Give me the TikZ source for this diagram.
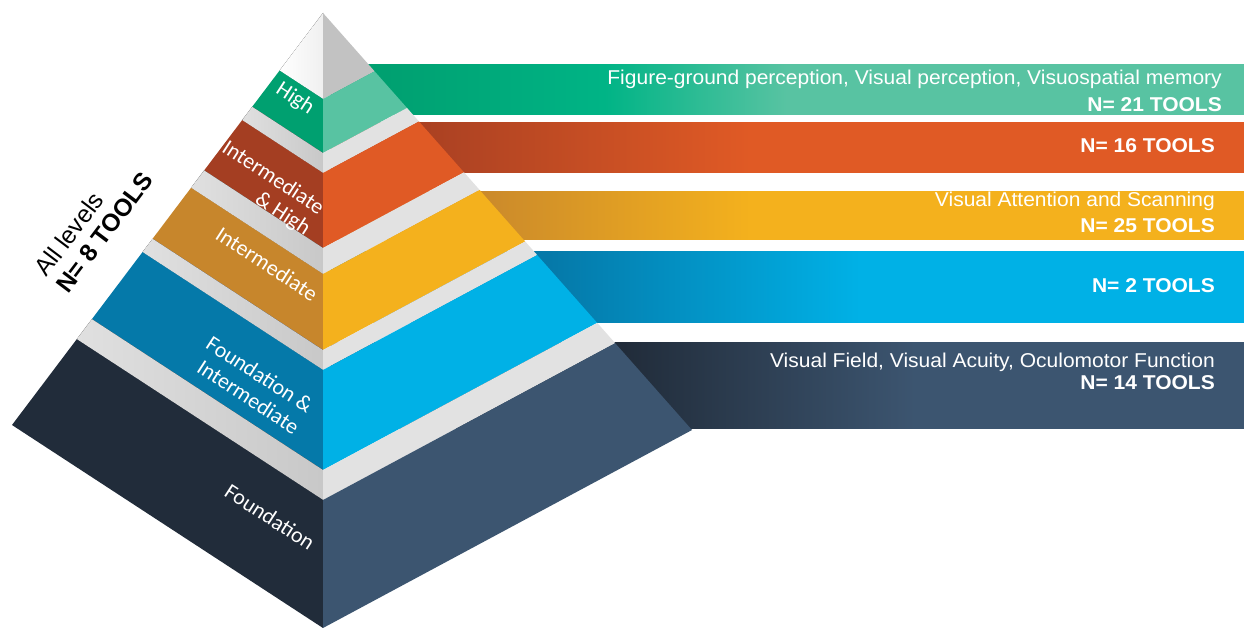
\documentclass[tikz,border=0pt]{standalone}
\usepackage{fontspec}
\setmainfont{Liberation Sans}
\newfontfamily\bandfont[FakeStretch=1.05]{Liberation Sans}
\newfontfamily\lblfont{Carlito}
\usetikzlibrary{calc}
\definecolor{capR}{HTML}{C2C2C2}
\definecolor{hiL}{HTML}{00A070}
\definecolor{hiR}{HTML}{58C3A2}
\definecolor{hiM}{HTML}{00B486}
\definecolor{ihL}{HTML}{A43E22}
\definecolor{ihR}{HTML}{E05A25}
\definecolor{inL}{HTML}{C7862C}
\definecolor{inR}{HTML}{F4B11D}
\definecolor{fiL}{HTML}{0579A9}
\definecolor{fiR}{HTML}{00B1E6}
\definecolor{foL}{HTML}{212C3A}
\definecolor{foR}{HTML}{3C5570}
\definecolor{sepR}{HTML}{E2E2E2}
\definecolor{sepLa}{HTML}{E0E0E0}
\definecolor{sepLb}{HTML}{C8C8C8}
% band shadings: 25bp = x 330, 75bp = x 1244
\pgfdeclarehorizontalshading{shHi}{100bp}{color(0bp)=(hiL); color(28bp)=(hiL); color(40bp)=(hiM); color(50bp)=(hiR); color(100bp)=(hiR)}
\pgfdeclarehorizontalshading{shIH}{100bp}{color(0bp)=(ihL); color(28bp)=(ihL); color(48bp)=(ihR); color(100bp)=(ihR)}
\pgfdeclarehorizontalshading{shIn}{100bp}{color(0bp)=(inL); color(32bp)=(inL); color(48bp)=(inR); color(100bp)=(inR)}
\pgfdeclarehorizontalshading{shFI}{100bp}{color(0bp)=(fiL); color(37bp)=(fiL); color(54bp)=(fiR); color(100bp)=(fiR)}
\pgfdeclarehorizontalshading{shFo}{100bp}{color(0bp)=(foL); color(41bp)=(foL); color(57bp)=(foR); color(100bp)=(foR)}
\newcommand\pyrlayer[4]{%
  \pgfmathsetmacro\ta{(#1-13)/615}%
  \pgfmathsetmacro\tb{(#2-13)/615}%
  \fill[#3] ($(apex)!\ta!(lc)$) -- (323,#1) -- (323,#2) -- ($(apex)!\tb!(lc)$) -- cycle;
  \fill[#4] (323,#1) -- ($(apex)!\ta!(rc)$) -- ($(apex)!\tb!(rc)$) -- (323,#2) -- cycle;
}
\begin{document}
\begin{tikzpicture}[x=1pt,y=-1pt,
  bandtext/.style={text=white,anchor=base east,inner sep=0pt,font=\bandfont\fontsize{20}{22}\selectfont},
  bandbold/.style={bandtext,font=\bandfont\fontsize{20}{22}\selectfont\bfseries},
  lvl/.style={text=white,rotate=-33,align=right,inner sep=0pt,font=\lblfont\fontsize{22}{25}\selectfont},
  alltext/.style={rotate=53,inner sep=0pt,font=\fontsize{24.5}{26}\selectfont}]
\useasboundingbox (0,0) rectangle (1244,628);
\fill[white] (0,0) rectangle (1244,628);
% bands
\shade[shading=shHi] (330,65) rectangle (1244,115);
\shade[shading=shIH] (330,123) rectangle (1244,173);
\shade[shading=shIn] (330,192) rectangle (1244,240);
\shade[shading=shFI] (330,252) rectangle (1244,322);
\shade[shading=shFo] (330,342) rectangle (1244,428);
% pyramid
\coordinate (apex) at (323,13);
\coordinate (lc) at (12,425);
\coordinate (rc) at (692,430);
\coordinate (bc) at (323,628);
\pyrlayer{13}{99}{left color=white, right color=gray!12}{capR}
\pyrlayer{99}{153}{hiL}{hiR}
\pyrlayer{153}{173}{left color=sepLa, right color=sepLb}{sepR}
\pyrlayer{173}{248}{ihL}{ihR}
\pyrlayer{248}{274}{left color=sepLa, right color=sepLb}{sepR}
\pyrlayer{274}{350}{inL}{inR}
\pyrlayer{350}{370}{left color=sepLa, right color=sepLb}{sepR}
\pyrlayer{370}{470}{fiL}{fiR}
\pyrlayer{470}{500}{left color=sepLa, right color=sepLb}{sepR}
\pyrlayer{500}{628}{foL}{foR}
% pyramid labels
\node[lvl] (lhigh) at (295,99) {High};
\node[lvl] (linthigh) at (266,189) {Intermediate\\\& High};
\node[lvl] (lint) at (267,264) {Intermediate};
\node[lvl] (lfoundint) at (253,385) {Foundation \&\\Intermediate};
\node[lvl] (lfound) at (270,517) {Foundation};
\node[alltext] (all1) at (69,234) {All levels};
\node[alltext,font=\fontsize{24.5}{26}\selectfont\bfseries] (all2) at (104.5,232.5) {N= 8 TOOLS};
% band texts
\node[bandtext] (t1a) at (1222,85) {Figure-ground perception, Visual perception, Visuospatial memory};
\node[bandbold] (t1b) at (1222,112) {N= 21 TOOLS};
\node[bandbold] (t2) at (1215,153) {N= 16 TOOLS};
\node[bandtext] (t3a) at (1215,207) {Visual Attention and Scanning};
\node[bandbold] (t3b) at (1215,233) {N= 25 TOOLS};
\node[bandbold] (t4) at (1215,292) {N= 2 TOOLS};
\node[bandtext] (t5a) at (1215,367) {Visual Field, Visual Acuity, Oculomotor Function};
\node[bandbold] (t5b) at (1215,389) {N= 14 TOOLS};
\end{tikzpicture}
\end{document}
